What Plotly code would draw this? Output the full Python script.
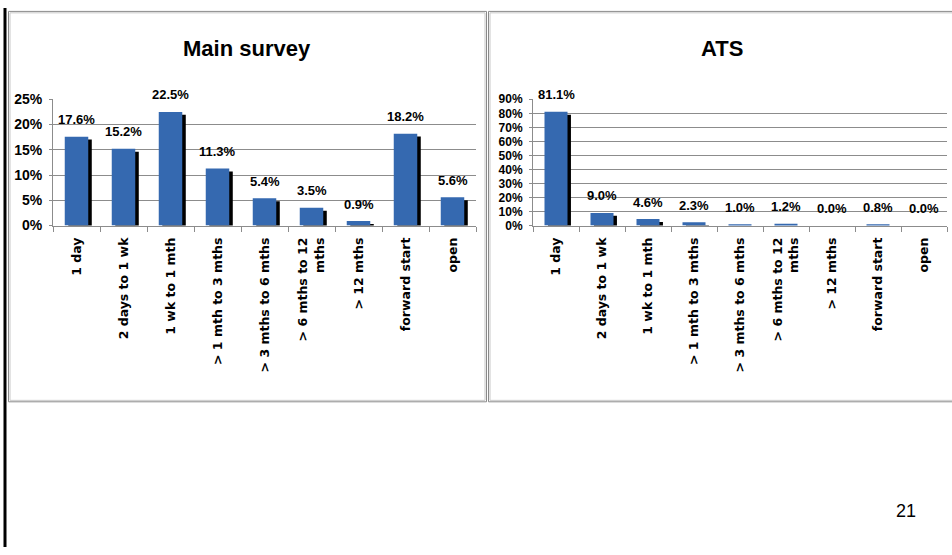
import plotly.graph_objects as go

# ---- data ----
categories = ["1 day", "2 days to 1 wk", "1 wk to 1 mth", "> 1 mth to 3 mths",
              "> 3 mths to 6 mths", "> 6 mths to 12<br>mths", "> 12 mths",
              "forward start", "open"]
main_survey = [17.6, 15.2, 22.5, 11.3, 5.4, 3.5, 0.9, 18.2, 5.6]
ats = [81.1, 9.0, 4.6, 2.3, 1.0, 1.2, 0.0, 0.8, 0.0]
titles = ["Main survey", "ATS"]
page_number = "21"

W, H = 952, 555
FONT = "Liberation Sans Narrow, Arial Narrow, Liberation Sans, Arial, sans-serif"
TICKFONT = "DejaVu Sans, Liberation Sans, sans-serif"
BAR = "#3569b0"
GRID = "#8c8c8c"

def px(x):
    return x / W

def py(y):
    return 1 - y / H

plot_top, plot_bottom = 94, 224
ydom = [py(plot_bottom), py(plot_top)]

panels = [
    dict(vals=main_survey, title=titles[0], xdom=[px(53), px(476)], ymax=25, dtick=5,
         xa="x", ya="y", title_x=247, yfs=14),
    dict(vals=ats, title=titles[1], xdom=[px(533), px(947)], ymax=90, dtick=10,
         xa="x2", ya="y2", title_x=722, yfs=12),
]

fig = go.Figure()
annotations = []
bw = 0.5
for p in panels:
    shift_down = 3 * p["ymax"] / (plot_bottom - plot_top)
    # shadow
    fig.add_trace(go.Bar(x=categories, y=p["vals"], base=[-shift_down] * len(p["vals"]),
                         width=bw, offset=-bw / 2 + 0.075, marker=dict(color="black", line=dict(width=0)),
                         xaxis=p["xa"], yaxis=p["ya"], showlegend=False, hoverinfo="skip"))
    fig.add_trace(go.Bar(x=categories, y=p["vals"], width=bw, offset=-bw / 2,
                         marker=dict(color=BAR, line=dict(width=0)),
                         xaxis=p["xa"], yaxis=p["ya"], showlegend=False))
    for c, v in zip(categories, p["vals"]):
        annotations.append(dict(x=c, y=v, xref=p["xa"], yref=p["ya"], text=f"{v:.1f}%",
                                showarrow=False, yshift=17, yanchor="middle",
                                font=dict(family=FONT, size=13, color="black", weight="bold")))
    annotations.append(dict(x=px(p["title_x"]), y=py(42), xref="paper", yref="paper",
                            text=p["title"], showarrow=False, xanchor="center", yanchor="middle",
                            font=dict(family=FONT, size=22, color="black", weight="bold")))

annotations.append(dict(x=px(906), y=py(518), xref="paper", yref="paper", text=page_number,
                        showarrow=False, xanchor="center", yanchor="middle",
                        font=dict(family="Liberation Sans, Arial, sans-serif", size=18, color="black")))

xaxis_common = dict(type="category", showline=True, linecolor=GRID, linewidth=1,
                    ticks="outside", tickson="boundaries", ticklen=5, tickcolor=GRID,
                    tickangle=-90, ticklabelstandoff=6, showgrid=False, zeroline=False,
                    tickfont=dict(family=TICKFONT, size=12.5, color="black", weight="bold"),
                    range=[-0.5, 8.5], fixedrange=True)

def yaxis(p):
    return dict(domain=ydom, anchor=p["xa"], range=[0, p["ymax"]], dtick=p["dtick"],
                showline=True, linecolor=GRID, linewidth=1, ticks="outside", ticklen=3,
                tickcolor=GRID, showgrid=True, gridcolor=GRID, gridwidth=1, zeroline=False,
                ticksuffix="%", tickfont=dict(family=FONT, size=p["yfs"], color="black", weight="bold"),
                ticklabelstandoff=4, fixedrange=True)

def frame(x0, x1, y0, y1):
    # double grey frame: darker outer line, lighter inner line
    return [
        dict(type="rect", xref="paper", yref="paper", x0=px(x0), x1=px(x1), y0=py(y1), y1=py(y0),
             line=dict(color="#8a8a8a", width=1)),
        dict(type="rect", xref="paper", yref="paper", x0=px(x0 + 1.5), x1=px(x1 - 1.5),
             y0=py(y1 - 1.5), y1=py(y0 + 1.5), line=dict(color="#c8c8c8", width=1)),
    ]

fig.update_layout(
    width=W, height=H, margin=dict(l=0, r=0, t=0, b=0),
    paper_bgcolor="white", plot_bgcolor="white", barmode="overlay",
    xaxis=dict(domain=panels[0]["xdom"], anchor="y", **xaxis_common),
    yaxis=yaxis(panels[0]),
    xaxis2=dict(domain=panels[1]["xdom"], anchor="y2", **xaxis_common),
    yaxis2=yaxis(panels[1]),
    annotations=annotations,
    shapes=frame(8.5, 486.5, 3.5, 405.5) + frame(488.5, 966, 3.5, 405.5) + [
        dict(type="line", xref="paper", yref="paper", x0=px(5), x1=px(5), y0=0, y1=1,
             line=dict(color="black", width=3)),
    ],
)

css_fix = (
    "document.documentElement.style.margin='0';"
    "document.body.style.margin='0';"
    "document.body.style.overflow='hidden';"
)
fig.write_html("out.html", config={"displayModeBar": False}, post_script=css_fix)
